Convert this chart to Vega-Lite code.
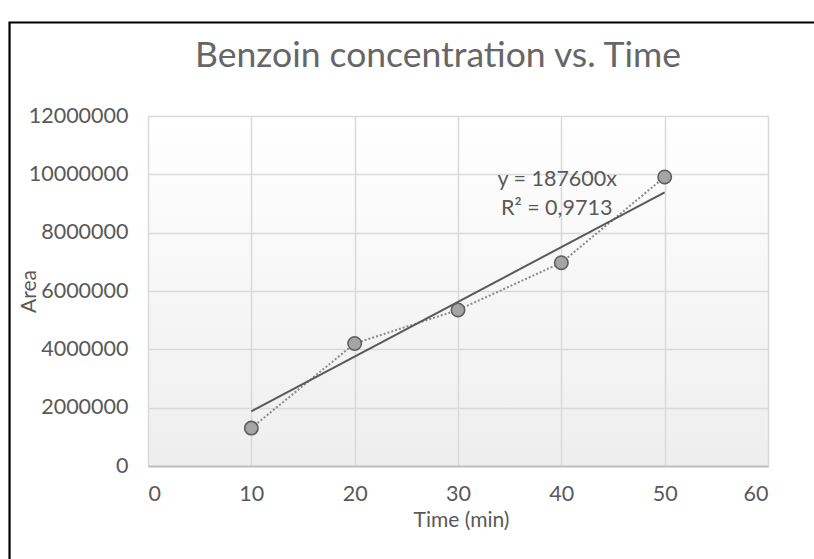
{
  "$schema": "https://vega.github.io/schema/vega-lite/v6.json",
  "width": 620,
  "height": 350,
  "autosize": {"type": "none"},
  "padding": {"left": 148, "top": 116, "right": 46, "bottom": 93},
  "background": "white",
  "title": {
    "text": "Benzoin concentration vs. Time",
    "font": "Lato",
    "fontSize": 35.5,
    "fontWeight": "normal",
    "color": "#666666",
    "anchor": "middle",
    "frame": "group",
    "dx": -20,
    "offset": -53
  },
  "datasets": {
    "pts": [
      {"time": 10, "area": 1300000},
      {"time": 20, "area": 4200000},
      {"time": 30, "area": 5350000},
      {"time": 40, "area": 6970000},
      {"time": 50, "area": 9910000}
    ],
    "trend": [
      {"time": 10, "area": 1876000},
      {"time": 50, "area": 9380000}
    ],
    "notes": [
      {"time": 39.6, "area": 9806000, "label": "y = 187600x"},
      {"time": 39.55, "area": 8811000, "label": "R² = 0,9713"}
    ]
  },
  "layer": [
    {
      "data": {"name": "pts"},
      "mark": {"type": "line", "color": "#8a8a8a", "strokeWidth": 2, "strokeDash": [2, 2]},
      "encoding": {
        "x": {
          "field": "time",
          "type": "quantitative",
          "scale": {"domain": [0, 60], "nice": false, "zero": false},
          "axis": {
            "values": [0, 10, 20, 30, 40, 50, 60],
            "title": "Time (min)",
            "labelPadding": 17,
            "domain": true,
            "domainColor": "#bfbfbf",
            "domainWidth": 2,
            "titleX": 313,
            "titleY": 54,
            "titleAlign": "center",
            "titleBaseline": "middle"
          }
        },
        "y": {
          "field": "area",
          "type": "quantitative",
          "scale": {"domain": [0, 12000000], "nice": false, "zero": false},
          "axis": {
            "values": [0, 2000000, 4000000, 6000000, 8000000, 10000000, 12000000],
            "format": "d",
            "title": "Area",
            "labelPadding": 20,
            "titleX": -119,
            "titleY": 175,
            "titleAngle": -90,
            "titleAlign": "center",
            "titleBaseline": "middle"
          }
        }
      }
    },
    {
      "data": {"name": "trend"},
      "mark": {"type": "line", "color": "#595959", "strokeWidth": 2},
      "encoding": {
        "x": {"field": "time", "type": "quantitative"},
        "y": {"field": "area", "type": "quantitative"}
      }
    },
    {
      "data": {"name": "pts"},
      "mark": {"type": "point", "shape": "circle", "filled": true, "size": 180, "fill": "#a5a5a5", "stroke": "#5f5f5f", "strokeWidth": 1.6, "opacity": 1},
      "encoding": {
        "x": {"field": "time", "type": "quantitative"},
        "y": {"field": "area", "type": "quantitative"}
      }
    },
    {
      "data": {"name": "notes"},
      "mark": {"type": "text", "font": "Lato", "fontSize": 21.5, "color": "#595959", "align": "center", "baseline": "middle"},
      "encoding": {
        "x": {"field": "time", "type": "quantitative"},
        "y": {"field": "area", "type": "quantitative"},
        "text": {"field": "label", "type": "nominal"}
      }
    },
    {
      "data": {"values": [{"x0": -13.4, "x1": 66, "y0": 15206000, "y1": -3600000}]},
      "mark": {"type": "rect", "fillOpacity": 0, "stroke": "#000000", "strokeWidth": 2.2, "clip": false},
      "encoding": {
        "x": {"field": "x0", "type": "quantitative"},
        "x2": {"field": "x1"},
        "y": {"field": "y0", "type": "quantitative"},
        "y2": {"field": "y1"}
      }
    }
  ],
  "config": {
    "font": "Lato",
    "view": {
      "stroke": null,
      "fill": {
        "gradient": "linear",
        "x1": 0, "y1": 0, "x2": 0, "y2": 1,
        "stops": [
          {"offset": 0, "color": "#ffffff"},
          {"offset": 1, "color": "#eeeeee"}
        ]
      }
    },
    "axis": {
      "labelFont": "Lato",
      "titleFont": "Lato",
      "labelFontSize": 21.5,
      "titleFontSize": 21,
      "titleFontWeight": "normal",
      "labelColor": "#595959",
      "titleColor": "#595959",
      "gridColor": "#d9d9d9",
      "gridWidth": 1.5,
      "gridOpacity": 1,
      "domain": false,
      "ticks": false
    }
  }
}
